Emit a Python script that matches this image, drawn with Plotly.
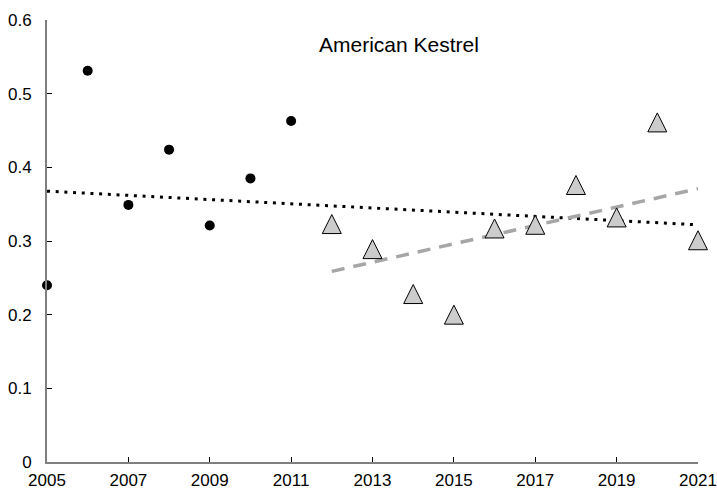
import numpy as np
import plotly.graph_objects as go

# Data
years_a = [2005, 2006, 2007, 2008, 2009, 2010, 2011]
vals_a = [0.240, 0.531, 0.349, 0.424, 0.321, 0.385, 0.463]
years_b = [2012, 2013, 2014, 2015, 2016, 2017, 2018, 2019, 2020, 2021]
vals_b = [0.323, 0.289, 0.228, 0.200, 0.317, 0.322, 0.376, 0.332, 0.461, 0.301]
x_ticks = [2005, 2007, 2009, 2011, 2013, 2015, 2017, 2019, 2021]
y_ticks = [0, 0.1, 0.2, 0.3, 0.4, 0.5, 0.6]
y_tick_text = ["0", "0.1", "0.2", "0.3", "0.4", "0.5", "0.6"]
title_text = "American Kestrel"

FONT = "Liberation Sans, Arial, sans-serif"

# Trend lines (linear fits)
all_x = np.array(years_a + years_b, dtype=float)
all_y = np.array(vals_a + vals_b, dtype=float)
p_all = np.polyfit(all_x, all_y, 1)
xb = np.array(years_b, dtype=float)
p_b = np.polyfit(xb, np.array(vals_b), 1)

fig = go.Figure()

fig.add_trace(go.Scatter(
    x=[all_x.min(), all_x.max()], y=np.polyval(p_all, [all_x.min(), all_x.max()]),
    mode="lines", line=dict(color="black", width=3, dash="3px,5.7px"),
    hoverinfo="skip", showlegend=False, cliponaxis=False))

fig.add_trace(go.Scatter(
    x=[xb.min(), xb.max()], y=np.polyval(p_b, [xb.min(), xb.max()]),
    mode="lines", line=dict(color="#a6a6a6", width=3.5, dash="13px,9px"),
    hoverinfo="skip", showlegend=False, cliponaxis=False))

fig.add_trace(go.Scatter(
    x=years_a, y=vals_a, mode="markers",
    marker=dict(symbol="circle", size=10, color="black"),
    showlegend=False, cliponaxis=False))

# up-pointing triangle centred on the point (arrow-down rotated 180 with standoff = half size)
fig.add_trace(go.Scatter(
    x=years_b, y=vals_b, mode="markers",
    marker=dict(symbol="arrow-down", angle=180, size=19, standoff=9.5, color="#cccccc",
                line=dict(color="black", width=1)),
    showlegend=False, cliponaxis=False))

fig.add_annotation(text=title_text, xref="paper", yref="paper",
                   x=0.5407, y=0.944, xanchor="center", yanchor="middle",
                   showarrow=False, font=dict(family=FONT, size=21, color="black"))

fig.update_layout(
    width=717, height=491,
    margin=dict(l=47, r=19, t=20, b=29),
    paper_bgcolor="white", plot_bgcolor="white",
    font=dict(family=FONT, size=17, color="black"),
)
fig.update_xaxes(range=[2005, 2021], tickvals=x_ticks, ticktext=[str(v) for v in x_ticks],
                 showgrid=False, zeroline=False, showline=True, linecolor="#7f7f7f",
                 linewidth=2, ticks="inside", ticklen=5, tickcolor="black", tickwidth=1,
                 automargin=False,
                 ticklabelstandoff=2, tickfont=dict(family=FONT, size=17, color="black"))
fig.update_yaxes(range=[0, 0.6], tickvals=y_ticks, ticktext=y_tick_text,
                 showgrid=False, zeroline=False, showline=True, linecolor="#7f7f7f",
                 linewidth=2, ticks="inside", ticklen=5, tickcolor="black", tickwidth=1,
                 automargin=False,
                 ticklabelstandoff=10, tickfont=dict(family=FONT, size=17, color="black"))

fig.write_html("out.html", config={"displayModeBar": False},
               post_script="document.body.style.margin='0';document.body.style.overflow='hidden';")
